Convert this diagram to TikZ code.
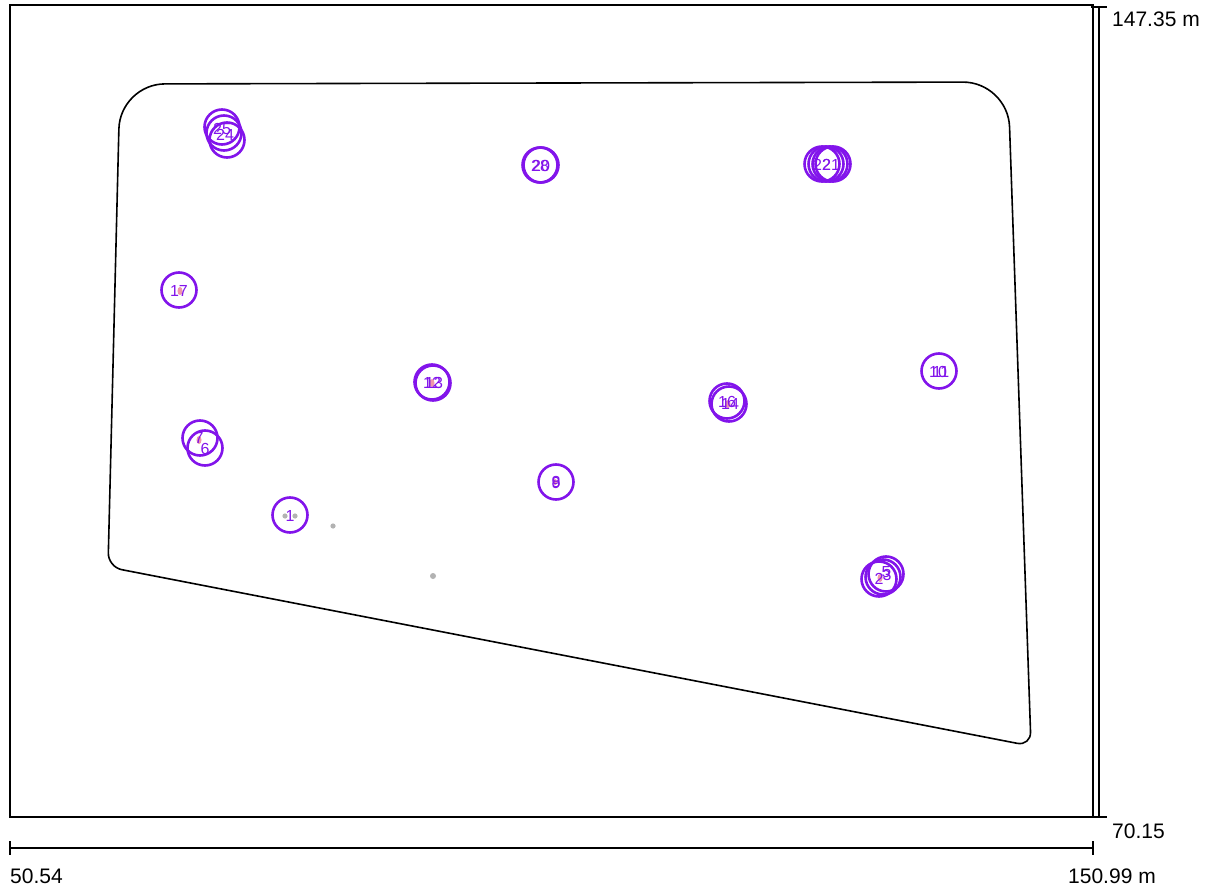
\documentclass[tikz,border=0pt]{standalone}
\usepackage{fontspec}
\setmainfont{Liberation Sans}
\begin{document}
\begin{tikzpicture}[x=1pt,y=-1pt,
  frame/.style={draw=black,line width=1.5pt},
  bar/.style={draw=black,line width=2pt},
  pt/.style={circle,draw={rgb,255:red,130;green,20;blue,235},line width=2.6pt,minimum size=35pt,inner sep=0pt},
  lab/.style={text={rgb,255:red,130;green,20;blue,235},font=\fontsize{16}{18}\selectfont,inner sep=0pt},
  scl/.style={font=\fontsize{21}{24}\selectfont,inner sep=0pt,anchor=west},
  gdot/.style={fill=black!30,draw=none},
  pdot/.style={fill={rgb,255:red,240;green,150;blue,170},draw=none}]
\useasboundingbox (0,0) rectangle (1220,890);
\fill[white] (0,0) rectangle (1220,890);
% frame
\draw[frame] (10,5) rectangle (1093,817);
% scale bars
\coordinate (vt) at (1099,7);
\coordinate (vb) at (1099,817);
\draw[bar] (vt) -- (vb);
\draw[bar] (1091,7) -- (1107,7);
\draw[bar] (1091,817) -- (1107,817);
\node[scl] (l1) at (1112,19) {147.35 m};
\node[scl] (l2) at (1112,831) {70.15};
\coordinate (hl) at (10,848);
\coordinate (hr) at (1093,848);
\draw[bar] (hl) -- (hr);
\draw[bar] (10,841) -- (10,855);
\draw[bar] (1093,841) -- (1093,855);
\node[scl] (l3) at (10,876) {50.54};
\node[scl] (l4) at (1068,876) {150.99 m};
% boundary polygon
\draw[line width=1.6pt,line join=round]
  (560,83) [rounded corners=45pt] -- (1008,82) [rounded corners=14pt] -- (1031,746) -- (108,567) [rounded corners=45pt] -- (120,84) -- cycle;
% grey dots
\fill[gdot] (285,516) circle (2.6);
\fill[gdot] (295,516) circle (2.6);
\fill[gdot] (333,526) circle (2.6);
\fill[gdot] (433,576) circle (3);
% pink markers
\fill[pdot] (180,291) ellipse (2.5 and 4);
\fill[pdot] (432,383) ellipse (2.5 and 4);
\fill[pdot] (199,440) ellipse (2.5 and 4);
\fill[pdot] (728,404) ellipse (2.5 and 4);
\fill[pdot] (880,578) ellipse (2.5 and 4);
\fill[pdot] (555,482) ellipse (2 and 3);
% circles
\node[pt] (c25) at (222,127) {};
\node[pt] (c24) at (224,133) {};
\node[pt] (c23) at (227,140) {};
\node[lab] at (222,129) {25};
\node[lab] at (225,135) {24};
\node[pt] (c28) at (540,165) {};
\node[pt] (c20) at (541,165) {};
\node[lab] at (540,166) {28};
\node[lab] at (541,166) {20};
\node[pt] (c22) at (822,164) {};
\node[pt] (c21) at (826,164) {};
\node[pt] (c27) at (830,164) {};
\node[pt] (c19) at (833,164) {};
\node[lab] at (822,165) {22};
\node[lab] at (831,165) {21};
\node[pt] (c17) at (179,290) {};
\node[lab] at (179,291) {17};
\node[pt] (c12) at (432,382) {};
\node[pt] (c13) at (433,383) {};
\node[lab] at (432,383) {12};
\node[lab] at (434,383) {13};
\node[pt] (c16) at (727,401) {};
\node[pt] (c14) at (729,404) {};
\node[lab] at (727,402) {16};
\node[lab] at (730,404) {14};
\node[pt] (c10) at (939,371) {};
\node[lab] at (938,372) {10};
\node[lab] at (941,372) {11};
\node[pt] (c7) at (200,438) {};
\node[pt] (c6) at (205,448) {};
\node[lab] at (199,438) {7};
\node[lab] at (205,449) {6};
\node[pt] (c8) at (556,482) {};
\node[lab] at (556,482) {8};
\node[lab] at (556,483) {9};
\node[pt] (c1) at (290,515) {};
\node[lab] at (290,516) {1};
\node[pt] (c2) at (879,579) {};
\node[pt] (c26) at (883,577) {};
\node[pt] (c3) at (886,574) {};
\node[lab] at (879,579) {2};
\node[lab] at (887,575) {3};
\node[lab] at (886,572) {5};
\end{tikzpicture}
\end{document}
